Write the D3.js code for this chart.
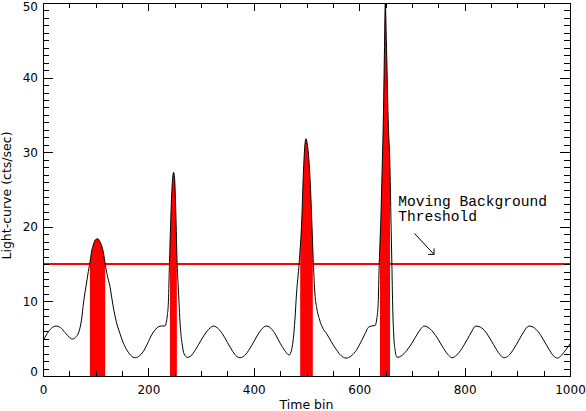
<!DOCTYPE html>
<html>
<head>
<meta charset="utf-8">
<script src="https://cdn.jsdelivr.net/npm/d3@7"></script>
<style>
  body { margin: 0; background: #fff; }
  svg { display: block; }
  text { fill: #000; }
</style>
</head>
<body>
<div class="lightcurve"></div>
<script>
'use strict';

// Light-curve samples (time bin, cts/sec)
var timeBins = [0, 8, 16, 25, 33, 42, 50, 56, 62, 68, 73, 77, 82, 86, 89, 92, 96, 100, 104, 108,
  112, 115, 118, 122, 127, 133, 139, 146, 152, 159, 166, 175, 183, 190, 198, 206, 213, 219, 225, 231,
  234, 236, 238, 240, 242, 244, 246, 248, 250, 252, 254.5, 257, 259, 261, 264, 267.5, 274, 280, 290, 300,
  310, 318, 323, 330, 340, 350, 360, 368, 374, 380, 390, 400, 410, 418, 424, 430, 440, 450, 460, 467,
  472, 475, 478, 481, 486, 491, 494, 497, 499, 501, 505, 508, 510, 513, 516, 519, 525, 531, 538, 547,
  557, 566, 575, 585, 595, 605, 612, 617, 623, 630, 633, 636, 638, 641, 643.5, 646, 648, 649.5, 651.5, 655,
  658.5, 660.3, 662, 663.5, 665.5, 668, 672, 680, 690, 700, 710, 718, 723, 730, 740, 750, 760, 770, 776, 785,
  795, 805, 813, 821, 830, 840, 850, 860, 868, 875, 883, 893, 903, 912, 922, 930, 940, 950, 960, 968,
  976, 984, 992, 1000];
var counts = [4.7, 5.7, 6.4, 6.7, 6.5, 5.8, 5.2, 4.95, 5.2, 5.9, 7.5, 9.9, 12.2, 14.0, 15.2, 16.6, 17.7, 18.3, 18.4, 18.0,
  17.3, 16.4, 15.0, 13.5, 12.0, 9.4, 7.3, 5.7, 4.5, 3.5, 2.8, 2.45, 2.7, 3.25, 4.3, 5.5, 6.2, 6.6, 6.7, 6.7,
  7.2, 8.2, 10.0, 15.2, 20.0, 24.0, 26.5, 27.3, 26.2, 22.0, 15.0, 11.5, 8.5, 6.2, 4.3, 3.0, 2.5, 2.65, 3.6, 4.8,
  5.9, 6.5, 6.7, 6.5, 5.7, 4.5, 3.3, 2.6, 2.45, 2.6, 3.4, 4.6, 5.8, 6.5, 6.7, 6.55, 5.7, 4.4, 3.3, 2.8,
  3.6, 5.0, 7.5, 11.0, 15.1, 20.9, 27.0, 31.0, 31.8, 31.3, 28.5, 24.5, 20.9, 15.1, 11.0, 9.3, 7.5, 6.4, 5.7, 4.6,
  3.5, 2.7, 2.4, 2.7, 3.5, 4.8, 5.8, 6.5, 6.7, 6.75, 7.5, 9.7, 15.0, 20.9, 27.6, 35.0, 44.0, 50.0, 45.0, 34.3,
  27.6, 20.9, 15.0, 9.5, 5.5, 3.5, 2.5, 2.7, 3.4, 4.4, 5.6, 6.4, 6.7, 6.55, 5.9, 4.9, 3.7, 2.75, 2.45, 2.8,
  3.7, 4.9, 5.9, 6.7, 6.55, 5.9, 4.8, 3.6, 2.8, 2.45, 2.7, 3.6, 4.8, 5.9, 6.7, 6.55, 5.9, 4.8, 3.6, 2.75,
  2.4, 2.8, 3.5, 4.3];

// Moving background threshold and the bins flagged above it
var threshold = 15;
var flareStart = [89, 241, 488, 639.5];
var flareEnd = [118, 254, 512, 658.5];

// Tick labels
var xTicks = [0, 200, 400, 600, 800, 1000];
var yTicks = [0, 10, 20, 30, 40, 50];

// Annotation
var noteLines = ['Moving Background', 'Threshold'];

//Width and height
var w = 586;
var h = 411;
var margin = {top: 3, right: 16, bottom: 35, left: 43};
var SANS = '"DejaVu Sans", sans-serif';
var MONO = '"Liberation Mono", "DejaVu Sans Mono", monospace';

var data = timeBins.map(function(t, i) {
  return {t: t, c: counts[i]};
});

var svg = d3.select('.lightcurve')
  .append('svg')
  .attr('width', w)
  .attr('height', h);

// Scales
var xScale = d3.scaleLinear()
  .domain([0, 1000])
  .range([margin.left, w - margin.right]);
var yScale = d3.scaleLinear()
  .domain([0, 50])
  .range([h - margin.bottom, margin.top]);

var x0 = xScale.range()[0], x1 = xScale.range()[1];
var yb = yScale.range()[0], yt = yScale.range()[1];

// Clip to plot box, plus flare windows for the red fill
var defs = svg.append('defs');
defs.append('clipPath').attr('id', 'box')
  .append('rect')
  .attr('x', x0).attr('y', yt)
  .attr('width', x1 - x0).attr('height', yb - yt);
defs.append('clipPath').attr('id', 'flares')
  .selectAll('rect')
  .data(flareStart)
  .enter()
  .append('rect')
  .attr('x', function(d) { return xScale(d); })
  .attr('y', yt)
  .attr('width', function(d, i) { return xScale(flareEnd[i]) - xScale(d); })
  .attr('height', yb - yt);

var plot = svg.append('g').attr('clip-path', 'url(#box)');

// Red fill under the curve
var area = d3.area()
  .x(function(d) { return xScale(d.t); })
  .y0(yb)
  .y1(function(d) { return yScale(d.c); })
  .curve(d3.curveMonotoneX);

plot.append('g')
  .attr('clip-path', 'url(#flares)')
  .append('path')
  .datum(data)
  .attr('d', area)
  .attr('fill', '#ff0000');

// Threshold line
plot.append('line')
  .attr('x1', x0).attr('x2', x1)
  .attr('y1', yScale(threshold)).attr('y2', yScale(threshold))
  .attr('stroke', '#ff0000')
  .attr('stroke-width', 2);

// Light curve
var line = d3.line()
  .x(function(d) { return xScale(d.t); })
  .y(function(d) { return yScale(d.c); })
  .curve(d3.curveMonotoneX);

plot.append('path')
  .datum(data)
  .attr('d', line)
  .attr('fill', 'none')
  .attr('stroke', '#000')
  .attr('stroke-width', 1);

// Axes: ticks on all four sides, pointing in
var xMinor = d3.range(0, 1001, 50).filter(function(v) { return v % 200; });
var yMinor = d3.range(0, 51, 1).filter(function(v) { return v % 10; });

var addAxis = function(axis, transform) {
  var g = svg.append('g')
    .attr('transform', transform)
    .attr('shape-rendering', 'crispEdges')
    .call(axis);
  g.select('.domain').remove();
  g.selectAll('line').attr('stroke', '#000');
  return g;
};

var xb = 'translate(0,' + yb + ')';
var xtT = 'translate(0,' + yt + ')';
var ylT = 'translate(' + x0 + ',0)';
var yrT = 'translate(' + x1 + ',0)';

var bottom = addAxis(d3.axisBottom(xScale).tickValues(xTicks).tickSize(-8).tickPadding(9)
  .tickFormat(d3.format('d')), xb);
addAxis(d3.axisBottom(xScale).tickValues(xMinor).tickSize(-5).tickFormat(''), xb);
addAxis(d3.axisTop(xScale).tickValues(xTicks).tickSize(-8).tickFormat(''), xtT);
addAxis(d3.axisTop(xScale).tickValues(xMinor).tickSize(-5).tickFormat(''), xtT);

var left = addAxis(d3.axisLeft(yScale).tickValues(yTicks).tickSize(-10).tickPadding(15)
  .tickFormat(d3.format('d')), ylT);
addAxis(d3.axisLeft(yScale).tickValues(yMinor).tickSize(-6).tickFormat(''), ylT);
addAxis(d3.axisRight(yScale).tickValues(yTicks).tickSize(-10).tickFormat(''), yrT);
addAxis(d3.axisRight(yScale).tickValues(yMinor).tickSize(-6).tickFormat(''), yrT);

bottom.selectAll('text').style('font-size', '12px').style('font-family', SANS);
left.selectAll('text')
  .style('font-size', '12px')
  .style('font-family', SANS)
  .attr('dy', null)
  .attr('dominant-baseline', 'central')
  .attr('x', -5)
  .attr('transform', function(d) {
    // end labels are kept inside the box
    var y = yScale(d);
    var yy = Math.min(Math.max(y, 6.5), yb - 5);
    return 'translate(0,' + (yy - y) + ')';
  });

// Frame
svg.append('rect')
  .attr('x', x0).attr('y', yt)
  .attr('width', x1 - x0).attr('height', yb - yt)
  .attr('fill', 'none')
  .attr('stroke', '#000')
  .attr('shape-rendering', 'crispEdges');

// Axis titles
svg.append('text')
  .attr('x', (x0 + x1) / 2)
  .attr('y', h - 2)
  .attr('text-anchor', 'middle')
  .style('font-family', SANS)
  .style('font-size', '12.5px')
  .text('Time bin');

svg.append('text')
  .attr('transform', 'translate(11,' + ((yt + yb) / 2 + 6) + ') rotate(-90)')
  .attr('text-anchor', 'middle')
  .style('font-family', SANS)
  .style('font-size', '12.5px')
  .text('Light-curve (cts/sec)');

// Annotation text and arrow
svg.append('g')
  .selectAll('text')
  .data(noteLines)
  .enter()
  .append('text')
  .attr('x', xScale(674))
  .attr('y', function(d, i) { return yScale(22.8) + i * 15.3; })
  .style('font-family', MONO)
  .style('font-size', '14.6px')
  .text(function(d) { return d; });

var ax = xScale(705), ay = yScale(19.1);
var bx = xScale(742), by = yScale(16.3);
svg.append('path')
  .attr('d', 'M' + ax + ',' + ay + 'L' + bx + ',' + by +
    'M' + (bx - 6) + ',' + by + 'L' + bx + ',' + by + 'L' + bx + ',' + (by - 6))
  .attr('fill', 'none')
  .attr('stroke', '#000')
  .attr('stroke-width', 1);
</script>
</body>
</html>
